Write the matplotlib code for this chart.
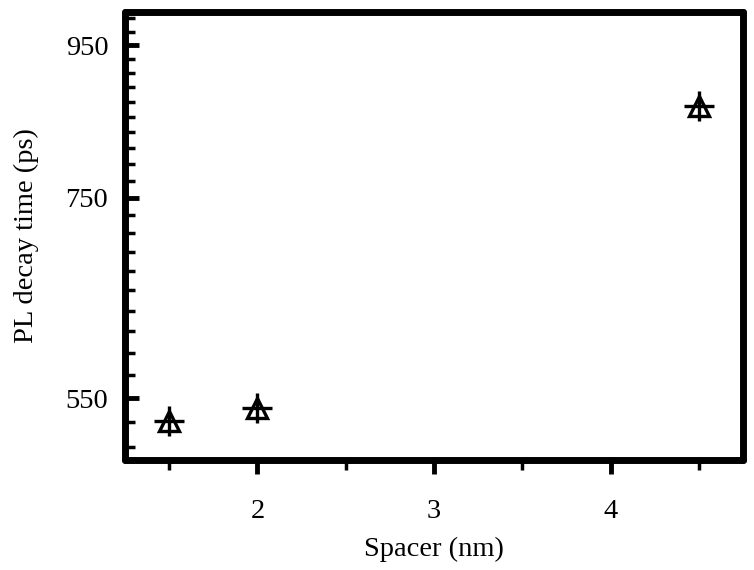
import matplotlib
matplotlib.use("Agg")
import matplotlib.pyplot as plt
from matplotlib.ticker import FixedLocator, NullFormatter

# data
spacer = [1.5, 2.0, 4.5]
decay = [531, 542, 865]

y_major = [550, 750, 950]
y_minor = [v for v in range(510, 1000, 20) if v not in y_major]
x_major = [2, 3, 4]
x_minor = [1.5, 2.5, 3.5, 4.5]

plt.rcParams['font.family'] = ['Liberation Serif', 'DejaVu Serif']

fig = plt.figure(figsize=(7.54, 5.70), dpi=100)
ax = fig.add_axes([125/754, 1-460/570, 618/754, 448/570])

ax.plot(spacer, decay, ls='none', marker='^', ms=15, mfc='none', mec='black', mew=2.4)
ax.plot(spacer, decay, ls='none', marker='+', ms=21, mec='black', mew=2.4)

ax.set_yscale('log')
ax.set_ylim(500, 1000)
ax.set_xlim(1.25, 4.75)

ax.yaxis.set_major_locator(FixedLocator(y_major))
ax.yaxis.set_minor_locator(FixedLocator(y_minor))
ax.set_yticklabels([str(v) for v in y_major])
ax.yaxis.set_minor_formatter(NullFormatter())
ax.xaxis.set_major_locator(FixedLocator(x_major))
ax.xaxis.set_minor_locator(FixedLocator(x_minor))
ax.set_xticklabels([str(v) for v in x_major])

for s in ax.spines.values():
    s.set_linewidth(5)
    s.set_capstyle('round')

ax.tick_params(axis='y', which='major', direction='in', length=10, width=3.5, labelsize=20.5, pad=12)
ax.tick_params(axis='y', which='minor', direction='in', length=7, width=2.5)
ax.tick_params(axis='x', which='major', direction='out', length=10, width=3.5, labelsize=20.5, pad=18)
ax.tick_params(axis='x', which='minor', direction='out', length=7, width=2.5)

ax.set_xlabel('Spacer (nm)', fontsize=20.5, labelpad=9)
ax.set_ylabel('PL decay time (ps)', fontsize=20.5, labelpad=19)

fig.savefig('out.png', dpi=100)
